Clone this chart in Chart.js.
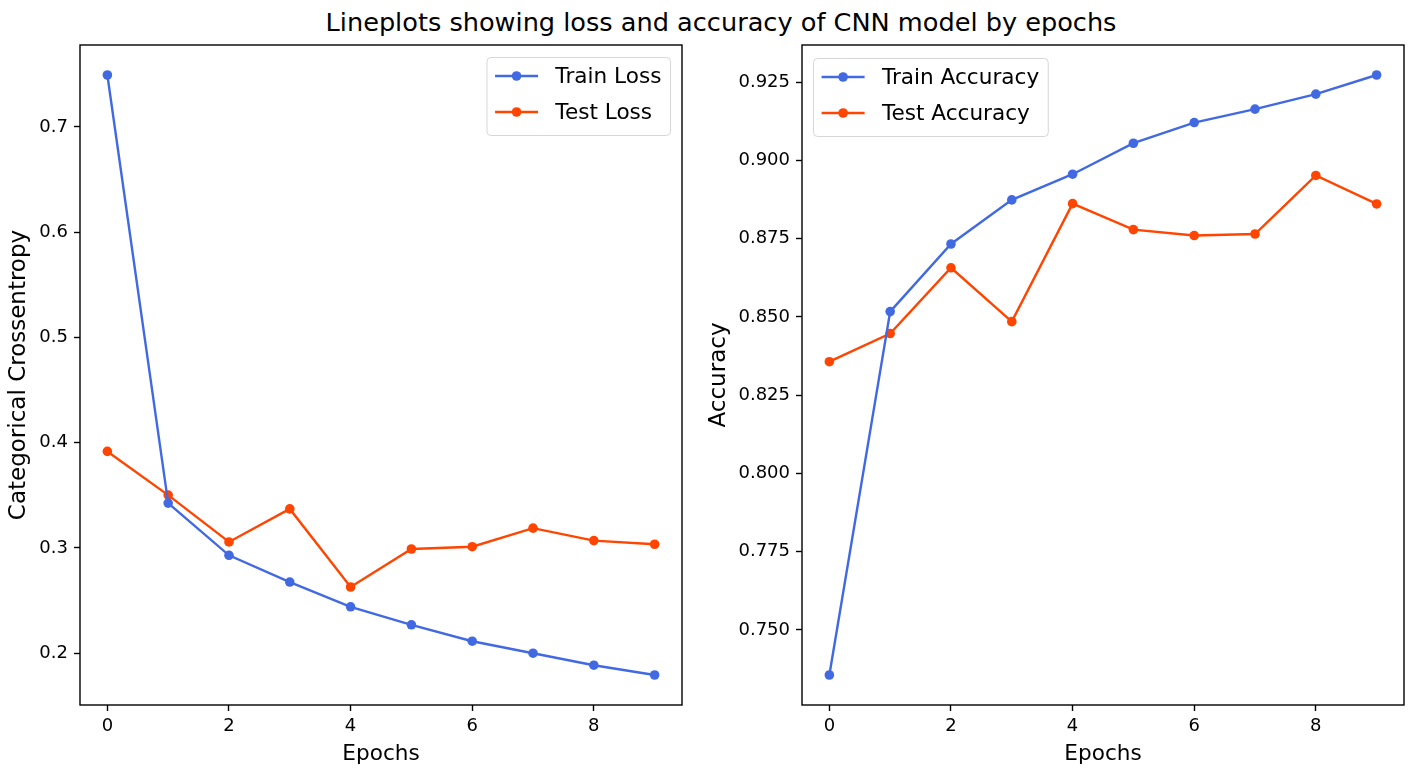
<!DOCTYPE html>
<html>
<head>
<meta charset="utf-8">
<title>CNN loss and accuracy by epochs</title>
<script src="https://cdn.jsdelivr.net/npm/chart.js@4.4.1/dist/chart.umd.min.js"></script>
<style>
  html, body { margin: 0; padding: 0; background: #fff; }
  body { width: 1416px; height: 771px; position: relative; overflow: hidden; font-family: "DejaVu Sans", sans-serif; }
  #suptitle { position: absolute; left: 721px; top: 6px; transform: translateX(-50%); white-space: nowrap;
              font-size: 25.6px; line-height: 32px; color: #000; }
  .panel { position: absolute; top: 40px; }
  #lossPanel { left: 0; }
  #accPanel { left: 700px; }
  canvas { display: block; }
</style>
</head>
<body>
<div id="suptitle">Lineplots showing loss and accuracy of CNN model by epochs</div>
<div class="panel" id="lossPanel"><canvas id="lossChart" width="700" height="731"></canvas></div>
<div class="panel" id="accPanel"><canvas id="accChart" width="716" height="731"></canvas></div>

<script>
// Training history of the CNN, one value per epoch
const epochs = [0, 1, 2, 3, 4, 5, 6, 7, 8, 9];
const trainLoss = [0.7493, 0.3426, 0.2930, 0.2676, 0.2441, 0.2270, 0.2114, 0.2000, 0.1886, 0.1793];
const testLoss  = [0.3917, 0.3502, 0.3057, 0.3371, 0.2629, 0.2990, 0.3012, 0.3188, 0.3070, 0.3035];
const trainAcc  = [0.7356, 0.8517, 0.8733, 0.8874, 0.8956, 0.9055, 0.9121, 0.9164, 0.9212, 0.9273];
const testAcc   = [0.8357, 0.8447, 0.8657, 0.8485, 0.8862, 0.8779, 0.8760, 0.8765, 0.8952, 0.8861];

// Tick positions
const xTickValues = [0, 2, 4, 6, 8];
const lossTickValues = [0.2, 0.3, 0.4, 0.5, 0.6, 0.7];
const accTickValues = [0.750, 0.775, 0.800, 0.825, 0.850, 0.875, 0.900, 0.925];

const BLUE = '#4169E1';
const ORANGE = '#FF4500';
const FONT = '"DejaVu Sans", sans-serif';
const BASE = 18;
const LARGE = 21.6;
const YTITLE = 23;

Chart.defaults.font.family = FONT;
Chart.defaults.color = '#000';

// Axis limits with a 5% margin around the data, like the usual autoscaling
function paddedRange(values, frac) {
  const lo = Math.min(...values), hi = Math.max(...values);
  const pad = (hi - lo) * frac;
  return [lo - pad, hi + pad];
}

// Closed frame around the plot area plus an in-plot legend box
const frameAndLegend = {
  id: 'frameAndLegend',
  afterDraw(chart, args, opts) {
    const { ctx, chartArea: a } = chart;
    ctx.save();
    ctx.strokeStyle = '#000';
    ctx.lineWidth = 1.4;
    ctx.strokeRect(a.left, a.top, a.right - a.left, a.bottom - a.top);

    ctx.font = LARGE + 'px ' + FONT;
    const labels = chart.data.datasets.map(d => d.label);
    const textW = Math.max(...labels.map(t => ctx.measureText(t).width));
    const pad = 8.6, handle = 43, gap = 17.3;
    const w = pad + handle + gap + textW + pad;
    const h = 78;
    const x = opts.side === 'right' ? a.right - 12 - w : a.left + 11;
    const y = a.top + (opts.side === 'right' ? 12 : 13);

    ctx.beginPath();
    ctx.roundRect(x + 0.5, y + 0.5, w, h, 4);
    ctx.fillStyle = 'rgba(255,255,255,0.8)';
    ctx.fill();
    ctx.strokeStyle = '#d6d6d6';
    ctx.lineWidth = 1;
    ctx.stroke();

    chart.data.datasets.forEach((ds, i) => {
      const cy = y + 19 + i * 36;
      ctx.strokeStyle = ds.borderColor;
      ctx.lineWidth = 2.4;
      ctx.beginPath();
      ctx.moveTo(x + pad, cy);
      ctx.lineTo(x + pad + handle, cy);
      ctx.stroke();
      ctx.fillStyle = ds.borderColor;
      ctx.beginPath();
      ctx.arc(x + pad + handle / 2, cy, 4.8, 0, Math.PI * 2);
      ctx.fill();
      ctx.fillStyle = '#000';
      ctx.textBaseline = 'middle';
      ctx.textAlign = 'left';
      ctx.fillText(ds.label, x + pad + handle + gap, cy + 1);
    });
    ctx.restore();
  }
};

function series(label, values, color) {
  return {
    label,
    data: epochs.map((e, i) => ({ x: e, y: values[i] })),
    borderColor: color,
    backgroundColor: color,
    borderWidth: 2.4,
    pointRadius: 4.8,
    pointHoverRadius: 4.8,
    pointBorderWidth: 0,
    pointBackgroundColor: color,
    tension: 0,
    fill: false
  };
}

function makePanel(canvasId, cfg) {
  const [yMin, yMax] = paddedRange(cfg.sets.flatMap(s => s.values), 0.05);
  const [xMin, xMax] = paddedRange(epochs, 0.05);
  return new Chart(document.getElementById(canvasId), {
    type: 'line',
    data: { datasets: cfg.sets.map(s => series(s.label, s.values, s.color)) },
    options: {
      responsive: false,
      animation: false,
      devicePixelRatio: 1,
      events: [],
      layout: { padding: { top: 5, right: cfg.padRight, left: 0, bottom: 0 } },
      plugins: {
        legend: { display: false },
        tooltip: { enabled: false },
        frameAndLegend: { side: cfg.legendSide }
      },
      scales: {
        x: {
          type: 'linear',
          min: xMin,
          max: xMax,
          afterBuildTicks: s => { s.ticks = xTickValues.map(v => ({ value: v })); },
          afterFit: s => { s.height = 66; s.paddingLeft = 0; s.paddingRight = 0; },
          ticks: { font: { size: BASE }, color: '#000', padding: 5, maxRotation: 0,
                   callback: v => String(v) },
          grid: { drawOnChartArea: false, drawTicks: true, tickLength: 6, tickWidth: 1.4, color: '#000' },
          border: { display: false },
          title: { display: true, text: 'Epochs', font: { size: LARGE }, color: '#000',
                   padding: { top: 0, bottom: 4 } }
        },
        y: {
          type: 'linear',
          min: yMin,
          max: yMax,
          afterBuildTicks: s => { s.ticks = cfg.yTicks.map(v => ({ value: v })); },
          afterFit: s => { s.width = cfg.yAxisWidth; s.paddingTop = 0; s.paddingBottom = 0; },
          ticks: { font: { size: BASE }, color: '#000', padding: 6,
                   callback: v => v.toFixed(cfg.decimals) },
          grid: { drawOnChartArea: false, drawTicks: true, tickLength: 6, tickWidth: 1.4, color: '#000' },
          border: { display: false },
          title: { display: true, text: cfg.yTitle, font: { size: YTITLE }, color: '#000',
                   padding: { top: 5, bottom: 0 } }
        }
      }
    },
    plugins: [frameAndLegend]
  });
}

makePanel('lossChart', {
  sets: [
    { label: 'Train Loss', values: trainLoss, color: BLUE },
    { label: 'Test Loss', values: testLoss, color: ORANGE }
  ],
  yTicks: lossTickValues,
  decimals: 1,
  yTitle: 'Categorical Crossentropy',
  yAxisWidth: 80,
  padRight: 18,
  legendSide: 'right'
});

makePanel('accChart', {
  sets: [
    { label: 'Train Accuracy', values: trainAcc, color: BLUE },
    { label: 'Test Accuracy', values: testAcc, color: ORANGE }
  ],
  yTicks: accTickValues,
  decimals: 3,
  yTitle: 'Accuracy',
  yAxisWidth: 102,
  padRight: 12,
  legendSide: 'left'
});
</script>
</body>
</html>
